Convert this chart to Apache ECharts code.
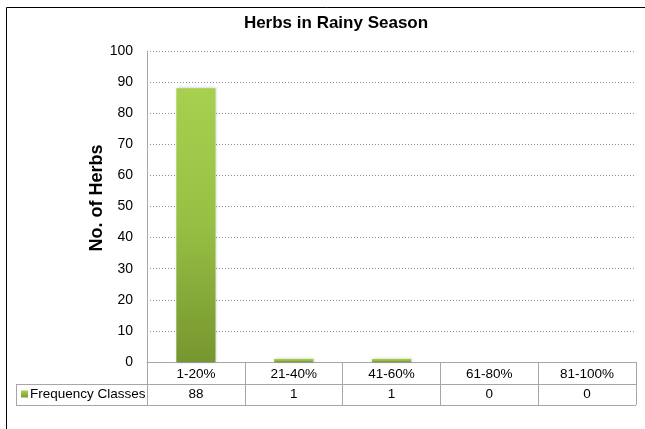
<!DOCTYPE html>
<html>
<head>
<meta charset="utf-8">
<script src="https://cdn.jsdelivr.net/npm/echarts@6/dist/echarts.min.js"></script>
<style>
html, body { margin: 0; padding: 0; background: #fff; }
#chart { width: 645px; height: 429px; }
</style>
</head>
<body>
<div id="chart"></div>
<script>
var categories = ['1-20%', '21-40%', '41-60%', '61-80%', '81-100%'];
var herbCounts = [88, 1, 1, 0, 0];
var seriesName = 'Frequency Classes';
var yAxisTitle = 'No. of Herbs';

var chart = echarts.init(document.getElementById('chart'));

// grid box
var gLeft = 147, gRight = 636, gTop = 51, gBottom = 362;
var rowH = 21.5;
var tableLeft = 16;
var lineColor = '#a6a6a6';
var font = 'Arial, "Liberation Sans", sans-serif';

var buildTable = function() {
    var els = [];
    var catW = (gRight - gLeft) / categories.length;
    // outer frame of the chart area (top and left visible)
    els.push({
        type: 'rect',
        shape: { x: 6.5, y: 7.5, width: 660, height: 440 },
        style: { fill: 'none', stroke: '#000', lineWidth: 1 },
        silent: true
    });
    // y axis title
    els.push({
        type: 'text',
        x: 97,
        y: 198,
        rotation: Math.PI / 2,
        style: {
            text: yAxisTitle, x: 0, y: 0,
            align: 'center', verticalAlign: 'middle',
            fill: '#000', font: 'bold 18px ' + font
        }
    });
    // y axis extended through the table
    els.push({
        type: 'line',
        shape: { x1: gLeft + 0.5, y1: gBottom, x2: gLeft + 0.5, y2: gBottom + rowH * 2 },
        style: { stroke: lineColor, lineWidth: 1 }
    });
    // horizontal lines of the table
    [gBottom + rowH, gBottom + rowH * 2].forEach(function(y) {
        els.push({
            type: 'line',
            shape: { x1: tableLeft, y1: Math.round(y) + 0.5, x2: gRight, y2: Math.round(y) + 0.5 },
            style: { stroke: lineColor, lineWidth: 1 }
        });
    });
    els.push({
        type: 'line',
        shape: { x1: tableLeft + 0.5, y1: Math.round(gBottom + rowH), x2: tableLeft + 0.5, y2: Math.round(gBottom + rowH * 2) + 1 },
        style: { stroke: lineColor, lineWidth: 1 }
    });
    // legend key
    els.push({
        type: 'rect',
        shape: { x: 21, y: gBottom + rowH + 7, width: 7, height: 7 },
        style: {
            fill: new echarts.graphic.LinearGradient(0, 0, 0, 1, [
                { offset: 0, color: '#a9d152' },
                { offset: 1, color: '#7b9c33' }
            ])
        }
    });
    els.push({
        type: 'text',
        style: {
            text: seriesName, x: 30, y: gBottom + rowH * 1.5,
            verticalAlign: 'middle', fill: '#000', font: '13.5px ' + font
        }
    });
    // values row
    herbCounts.forEach(function(v, i) {
        els.push({
            type: 'text',
            style: {
                text: String(v), x: gLeft + catW * (i + 0.5), y: gBottom + rowH * 1.5,
                align: 'center', verticalAlign: 'middle', fill: '#000', font: '13.5px ' + font
            }
        });
    });
    return els;
};

var option = {
    animation: false,
    title: {
        text: 'Herbs in Rainy Season',
        left: 331,
        textAlign: 'center',
        top: 10,
        textStyle: { fontFamily: font, fontSize: 17, fontWeight: 'bold', color: '#000' }
    },
    grid: {
        left: gLeft,
        right: 645 - gRight,
        top: gTop,
        bottom: 429 - gBottom,
        containLabel: false
    },
    xAxis: {
        type: 'category',
        data: categories,
        axisLine: { lineStyle: { color: lineColor, width: 1 } },
        axisTick: { show: true, length: rowH * 2, lineStyle: { color: lineColor } },
        axisLabel: { color: '#000', fontFamily: font, fontSize: 13.5, margin: 5 }
    },
    yAxis: {
        type: 'value',
        min: 0,
        max: 100,
        interval: 10,
        axisLine: { show: true, lineStyle: { color: lineColor, width: 1 } },
        axisTick: { show: false },
        axisLabel: { color: '#000', fontFamily: font, fontSize: 14, margin: 14 },
        splitLine: { lineStyle: { color: '#8c8c8c', type: [1, 2], width: 1 } }
    },
    series: [{
        name: seriesName,
        type: 'bar',
        data: herbCounts,
        barWidth: '40%',
        itemStyle: {
            color: new echarts.graphic.LinearGradient(0, 0, 0, 1, [
                { offset: 0, color: '#a8d04f' },
                { offset: 0.5, color: '#97bf43' },
                { offset: 1, color: '#76962f' }
            ]),
            shadowColor: 'rgba(0,0,0,0.25)',
            shadowBlur: 3,
            shadowOffsetX: 1,
            shadowOffsetY: 0
        }
    }],
    graphic: buildTable()
};
chart.setOption(option);

window.addEventListener('resize', function() {
    chart.resize();
});
</script>
</body>
</html>
